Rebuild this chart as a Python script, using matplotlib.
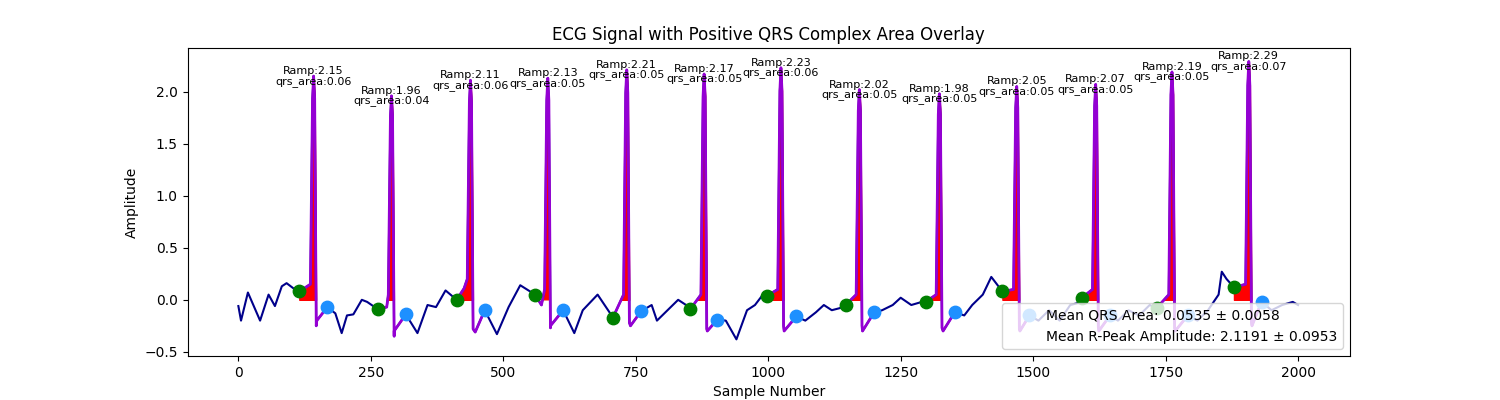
import numpy as np
import matplotlib.pyplot as plt

# baseline samples of the ECG (sample, amplitude)
base_x = [0, 5, 18, 41, 57, 69, 82, 91, 104, 115, 148, 168, 183, 195, 205, 217, 233, 243, 263, 280,
          294, 316, 338, 357, 373, 391, 412, 426, 447, 465, 488, 510, 532, 560, 572, 589, 613, 634,
          650, 678, 707, 740, 760, 780, 790, 810, 830, 845, 853, 885, 904, 920, 940, 960, 975, 990,
          998, 1030, 1053, 1070, 1090, 1105, 1120, 1135, 1146, 1178, 1200, 1215, 1235, 1250, 1270,
          1290, 1297, 1330, 1352, 1370, 1385, 1405, 1421, 1442, 1475, 1493, 1510, 1530, 1550, 1570,
          1585, 1592, 1624, 1645, 1660, 1680, 1700, 1720, 1733, 1768, 1792, 1810, 1830, 1850, 1856,
          1865, 1879, 1913, 1931, 1950, 1970, 1990, 2000]
base_y = [-0.06, -0.20, 0.07, -0.20, 0.05, -0.06, 0.13, 0.16, 0.11, 0.08, -0.20, -0.07, -0.13, -0.32,
          -0.15, -0.14, 0.00, -0.02, -0.09, -0.07, -0.35, -0.14, -0.32, -0.05, -0.07, 0.09, 0.00, 0.11,
          -0.31, -0.10, -0.33, -0.07, 0.14, 0.05, -0.05, -0.27, -0.10, -0.32, -0.10, 0.05, -0.17, -0.25,
          -0.11, -0.05, -0.20, -0.10, 0.00, -0.05, -0.09, -0.30, -0.19, -0.20, -0.38, -0.10, -0.05,
          0.05, 0.04, -0.30, -0.16, -0.20, -0.12, -0.05, -0.10, -0.08, -0.05, -0.30, -0.12, -0.10,
          -0.05, 0.02, -0.05, -0.02, -0.02, -0.30, -0.12, -0.15, -0.05, 0.05, 0.22, 0.08, -0.30, -0.15,
          -0.20, -0.10, -0.20, -0.05, -0.03, 0.02, -0.30, -0.15, -0.20, -0.10, -0.15, -0.05, -0.08,
          -0.30, -0.15, -0.20, -0.10, 0.05, 0.27, 0.20, 0.12, -0.25, -0.02, -0.10, -0.05, -0.02, -0.05]

# beats
r_peaks = [142, 289, 438, 584, 733, 879, 1024, 1172, 1323, 1469, 1618, 1762, 1907]
r_amps = [2.15, 1.96, 2.11, 2.13, 2.21, 2.17, 2.23, 2.02, 1.98, 2.05, 2.07, 2.19, 2.29]
qrs_on = [115, 263, 412, 560, 707, 853, 998, 1146, 1297, 1442, 1592, 1733, 1879]
qrs_off = [168, 316, 465, 613, 760, 904, 1053, 1200, 1352, 1493, 1645, 1792, 1931]
qrs_areas = [0.06, 0.04, 0.06, 0.05, 0.05, 0.05, 0.06, 0.05, 0.05, 0.05, 0.05, 0.05, 0.07]
pre_r = [0.15, 0.05, 0.20, 0.10, 0.05, 0.05, 0.10, 0.05, 0.05, 0.10, 0.10, 0.05, 0.15]
post_r = [-0.25, -0.30, -0.28, -0.25, -0.22, -0.28, -0.25, -0.25, -0.27, -0.28, -0.26, -0.27, -0.22]

mean_area, std_area = 0.0535, 0.0058
mean_amp, std_amp = 2.1191, 0.0953

# merge baseline and spikes
pts = list(zip(base_x, base_y))
for r, a, p, q in zip(r_peaks, r_amps, pre_r, post_r):
    pts += [(r - 6, p), (r - 2, 0.9 * a), (r, a), (r + 2, 0.9 * a), (r + 5, q)]
pts.sort()
x = np.array([p[0] for p in pts], dtype=float)
y = np.array([p[1] for p in pts])

fig, ax = plt.subplots(figsize=(15, 4), dpi=100)
ax.plot(x, y, color='darkblue', linewidth=1.5)

for i in range(len(r_peaks)):
    m = (x >= qrs_on[i]) & (x <= qrs_off[i])
    xs, ys = x[m], y[m]
    ax.fill_between(xs, ys, 0, where=ys > 0, interpolate=True, color='red')
    ax.plot(xs, ys, color='darkviolet', linewidth=2)
    ax.scatter(qrs_on[i], np.interp(qrs_on[i], x, y), s=80, color='green', zorder=3)
    ax.scatter(qrs_off[i], np.interp(qrs_off[i], x, y), s=80, color='dodgerblue', zorder=3)
    ax.text(r_peaks[i], r_amps[i] - 0.1, f"Ramp:{r_amps[i]:.2f}\nqrs_area:{qrs_areas[i]:.2f}",
            fontsize=8, ha='center', va='bottom', linespacing=0.95)

ax.plot([], [], ' ', label=f"Mean QRS Area: {mean_area:.4f} ± {std_area:.4f}")
ax.plot([], [], ' ', label=f"Mean R-Peak Amplitude: {mean_amp:.4f} ± {std_amp:.4f}")
ax.legend(loc='lower right', fontsize=10)

ax.set_xlim(-96, 2098)
ax.set_ylim(-0.54, 2.42)
ax.set_title("ECG Signal with Positive QRS Complex Area Overlay")
ax.set_xlabel("Sample Number")
ax.set_ylabel("Amplitude")
fig.savefig("out.png")
